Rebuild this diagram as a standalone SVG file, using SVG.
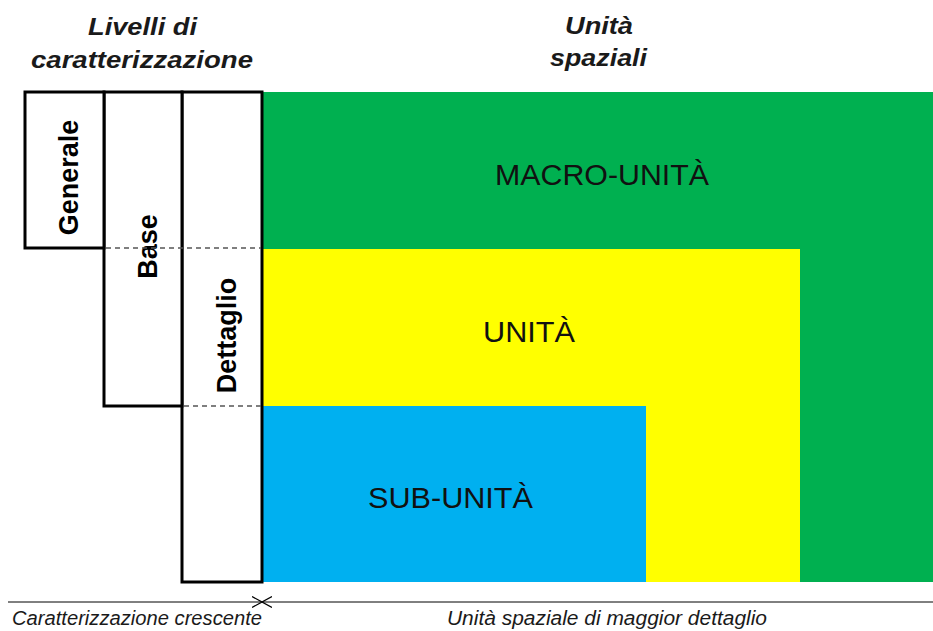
<svg xmlns="http://www.w3.org/2000/svg" width="933" height="631" viewBox="0 0 933 631">
<style>
.hdr{font-family:"Liberation Sans",Arial,sans-serif;font-size:24px;font-weight:bold;font-style:italic;fill:#1a1a1a;text-anchor:middle}
.lvl{fill:#fff;stroke:#000;stroke-width:3}
.vt{font-family:"Liberation Sans",Arial,sans-serif;font-size:27px;font-weight:bold;fill:#000;text-anchor:middle}
.ut{font-family:"Liberation Sans",Arial,sans-serif;font-size:29px;fill:#111;text-anchor:middle}
.dash{stroke:#555;stroke-width:1.3;stroke-dasharray:5,4;fill:none}
.ax{stroke:#000;stroke-width:1;fill:none}
.bt{font-family:"Liberation Sans",Arial,sans-serif;font-size:20px;font-style:italic;fill:#1a1a1a}
</style>
<defs>
<marker id="chev" viewBox="0 0 10 12" refX="10" refY="6" markerWidth="10" markerHeight="12" orient="auto-start-reverse" markerUnits="userSpaceOnUse">
<path d="M0,0.5 L10,6 L0,11.5" fill="none" stroke="#000" stroke-width="1.2"/>
</marker>
</defs>
<g id="headers">
<text class="hdr" x="142.5" y="35" textLength="109" lengthAdjust="spacingAndGlyphs">Livelli di</text>
<text class="hdr" x="142" y="68" textLength="222" lengthAdjust="spacingAndGlyphs">caratterizzazione</text>
<text class="hdr" x="599" y="34" textLength="68" lengthAdjust="spacingAndGlyphs">Unità</text>
<text class="hdr" x="598.5" y="66" textLength="97" lengthAdjust="spacingAndGlyphs">spaziali</text>
</g>
<g id="macro-unita">
<rect x="262" y="92" width="671" height="490" fill="#00b050"/>
<text class="ut" x="602" y="185" textLength="214" lengthAdjust="spacingAndGlyphs">MACRO-UNITÀ</text>
</g>
<g id="unita">
<rect x="262" y="249" width="538" height="333" fill="#ffff00"/>
<text class="ut" x="529" y="342" textLength="92" lengthAdjust="spacingAndGlyphs">UNITÀ</text>
</g>
<g id="sub-unita">
<rect x="262" y="406" width="384" height="176" fill="#00b0f0"/>
<text class="ut" x="450.5" y="508" textLength="165" lengthAdjust="spacingAndGlyphs">SUB-UNITÀ</text>
</g>
<g id="dettaglio">
<rect class="lvl" x="182" y="92" width="80" height="490"/>
<text class="vt" transform="translate(236,335.5) rotate(-90)">Dettaglio</text>
</g>
<g id="base">
<rect class="lvl" x="104" y="92" width="78" height="314"/>
<text class="vt" transform="translate(157,246.5) rotate(-90)">Base</text>
</g>
<g id="generale">
<rect class="lvl" x="25" y="92" width="79" height="156"/>
<text class="vt" transform="translate(78,177.5) rotate(-90)">Generale</text>
</g>
<g id="connectors">
<line class="dash" x1="106" y1="248" x2="261" y2="248"/>
<line class="dash" x1="184" y1="406" x2="261" y2="406"/>
<line class="ax" x1="8" y1="602" x2="262" y2="602" marker-end="url(#chev)"/>
<line class="ax" x1="262" y1="602" x2="933" y2="602" marker-start="url(#chev)"/>
</g>
<g id="axis-labels">
<text class="bt" x="12" y="625" textLength="250" lengthAdjust="spacingAndGlyphs">Caratterizzazione crescente</text>
<text class="bt" x="447" y="625" textLength="320" lengthAdjust="spacingAndGlyphs">Unità spaziale di maggior dettaglio</text>
</g>
</svg>
